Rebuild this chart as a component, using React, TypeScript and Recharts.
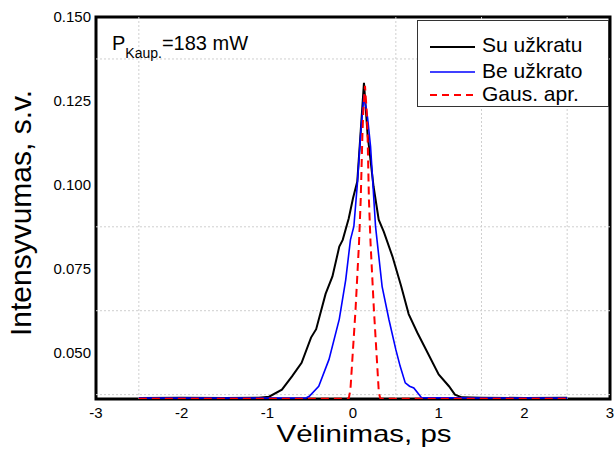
import React from "react";
import { LineChart, Line, XAxis, YAxis, ReferenceLine, ReferenceArea } from "recharts";

const timeSu = [-2.5, -2.0, -1.5, -1.1, -0.98, -0.83, -0.71, -0.6, -0.49, -0.43, -0.32, -0.24, -0.16, -0.12, -0.05, 0.0, 0.05, 0.09, 0.128, 0.17, 0.24, 0.3, 0.36, 0.46, 0.56, 0.65, 0.75, 0.85, 1.0, 1.12, 1.19, 1.27, 1.5, 2.0, 2.5];
const valSu = [0.0365, 0.0366, 0.0365, 0.0366, 0.0369, 0.039, 0.043, 0.047, 0.0545, 0.057, 0.0675, 0.0727, 0.0816, 0.0836, 0.09, 0.096, 0.101, 0.116, 0.1304, 0.115, 0.0995, 0.0896, 0.086, 0.0787, 0.07, 0.0615, 0.056, 0.051, 0.0435, 0.04, 0.0375, 0.0367, 0.0366, 0.0365, 0.0366];

const timeBe = [-2.5, -1.5, -0.55, -0.51, -0.4, -0.28, -0.16, -0.085, -0.03, 0.01, 0.05, 0.09, 0.128, 0.17, 0.205, 0.263, 0.3, 0.34, 0.42, 0.5, 0.55, 0.61, 0.66, 0.71, 0.8, 1.5, 2.5];
const valBe = [0.0365, 0.0365, 0.0365, 0.037, 0.04, 0.048, 0.06, 0.0717, 0.0836, 0.0876, 0.1, 0.1154, 0.1268, 0.12, 0.1114, 0.0876, 0.079, 0.0697, 0.0598, 0.0509, 0.046, 0.041, 0.04, 0.0395, 0.0366, 0.0365, 0.0365];

const timeGaus = [-2.5, -0.05, -0.03, 0.03, 0.07, 0.09, 0.11, 0.12, 0.14, 0.16, 0.17, 0.186, 0.205, 0.244, 0.302, 0.32, 2.5];
const valGaus = [0.0363, 0.0363, 0.039, 0.063, 0.0826, 0.0955, 0.115, 0.122, 0.1295, 0.122, 0.115, 0.0955, 0.0826, 0.0628, 0.038, 0.0363, 0.0363];

const xTicks = [-3, -2, -1, 0, 1, 2, 3];
const yTicks = [0.05, 0.075, 0.1, 0.125, 0.15];
const xGrid = [-2.5, 0.5, 1.5, 2.5];
const yGrid = [0.0375, 0.0625, 0.0875, 0.1375];
const xDomain = [-3, 3];
const yDomain = [0.0362, 0.15];

const seriesNames = ["Su užkratu", "Be užkrato", "Gaus. apr."];

const zip = (t: number[], v: number[]) => t.map((x, i) => ({ t: x, v: v[i] }));
const dataSu = zip(timeSu, valSu);
const dataBe = zip(timeBe, valBe);
const dataGaus = zip(timeGaus, valGaus);

const FONT = "'Liberation Sans', Arial, sans-serif";

const XTitle = () => (
  <text x={364} y={442} textAnchor="middle" fontSize={24} fontFamily={FONT} fill="#000" textLength={175} lengthAdjust="spacingAndGlyphs">
    Vėlinimas, ps
  </text>
);

const YTitle = () => (
  <text x={0} y={0} transform="translate(31,213) rotate(-90)" textAnchor="middle" fontSize={30} fontFamily={FONT} fill="#000">
    Intensyvumas, s.v.
  </text>
);

export default function App() {
  return (
    <div style={{ position: "absolute", left: 0, top: 0, width: 615, height: 451, background: "#fff" }}>
      <LineChart width={615} height={451} margin={{ top: 17, right: 5, left: 0, bottom: 0 }}>
        {xGrid.map((g) => (
          <ReferenceLine key={"vx" + g} x={g} stroke="#cfcfcf" strokeDasharray="2 2" strokeWidth={1} />
        ))}
        {yGrid.map((g) => (
          <ReferenceLine key={"hy" + g} y={g} stroke="#cfcfcf" strokeDasharray="2 2" strokeWidth={1} />
        ))}
        <XAxis
          dataKey="t"
          type="number"
          domain={xDomain}
          ticks={xTicks}
          height={52}
          axisLine={false}
          tickLine={false}
          tick={{ fontSize: 15, fill: "#000", fontFamily: FONT }}
          label={<XTitle />}
          allowDataOverflow
        />
        <YAxis
          type="number"
          domain={yDomain}
          ticks={yTicks}
          width={96}
          axisLine={false}
          tickLine={false}
          tickSize={3}
          tick={{ fontSize: 15, fill: "#000", fontFamily: FONT }}
          tickFormatter={(v: number) => v.toFixed(3)}
          label={<YTitle />}
          allowDataOverflow
        />
        <ReferenceArea x1={xDomain[0]} x2={xDomain[1]} y1={yDomain[0]} y2={yDomain[1]} fill="none" stroke="#000" strokeWidth={3} fillOpacity={0} />
        <Line data={dataSu} dataKey="v" name={seriesNames[0]} type="linear" stroke="#000" strokeWidth={2} dot={false} isAnimationActive={false} />
        <Line data={dataBe} dataKey="v" name={seriesNames[1]} type="linear" stroke="#0000ff" strokeWidth={1.6} dot={false} isAnimationActive={false} />
        <Line data={dataGaus} dataKey="v" name={seriesNames[2]} type="linear" stroke="#ff0000" strokeWidth={2} strokeDasharray="8 5" dot={false} isAnimationActive={false} />
      </LineChart>
      <svg width={615} height={451} style={{ position: "absolute", left: 0, top: 0, pointerEvents: "none" }}>
        <text x={112} y={50} fontSize={20} fontFamily={FONT} fill="#000">
          P<tspan fontSize={14} dy={8}>Kaup.</tspan>
          <tspan dy={-8}>=183 mW</tspan>
        </text>
        <rect x={417.5} y={20.5} width={191} height={86} fill="#fff" stroke="#333" strokeWidth={1} />
        <line x1={430} x2={475} y1={47} y2={47} stroke="#000" strokeWidth={2} />
        <line x1={430} x2={475} y1={72} y2={72} stroke="#0000ff" strokeWidth={1.6} />
        <line x1={430} x2={475} y1={95} y2={95} stroke="#ff0000" strokeWidth={2} strokeDasharray="7 5" />
        <text x={482} y={52} fontSize={21} fontFamily={FONT} fill="#000">{seriesNames[0]}</text>
        <text x={482} y={78} fontSize={21} fontFamily={FONT} fill="#000">{seriesNames[1]}</text>
        <text x={482} y={101} fontSize={21} fontFamily={FONT} fill="#000">{seriesNames[2]}</text>
      </svg>
    </div>
  );
}
